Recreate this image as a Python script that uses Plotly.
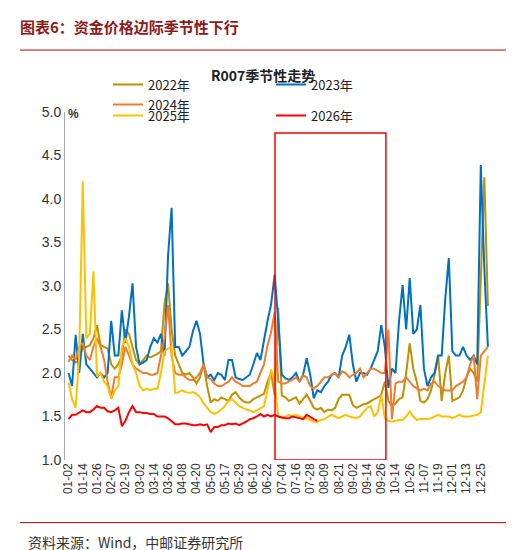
import plotly.graph_objects as go

tick_labels = ["01-02","01-14","01-26","02-07","02-19","03-02","03-14","03-26","04-08","04-20",
               "05-05","05-17","05-29","06-10","06-22","07-04","07-16","07-28","08-09","08-21",
               "09-02","09-14","09-26","10-14","10-26","11-07","11-19","12-01","12-13","12-25"]

r2022 = [2.2,2.15,2.12,2.15,2.3,2.3,2.32,2.4,2.55,2.32,2.3,2.28,2.1,2.05,2.1,2.2,2.5,2.45,2.3,2.15,
         2.1,2.15,2.2,2.18,2.2,2.22,2.25,2.8,3.03,2.5,2.2,2.1,2.0,1.98,2.0,1.95,1.88,1.95,2.1,1.85,
         1.66,1.7,1.68,1.72,1.7,1.68,1.75,1.78,1.72,1.68,1.66,1.66,1.7,1.72,1.74,1.76,1.9,2.0,1.75,2.75,
         1.74,1.72,1.68,1.7,1.72,1.65,1.7,1.75,1.68,1.6,1.58,1.6,1.55,1.58,1.57,1.6,1.7,1.75,1.75,1.75,
         1.63,1.6,1.62,1.64,1.65,1.68,1.7,1.72,1.75,1.9,1.68,1.62,1.65,1.7,1.72,2.0,2.34,2.05,1.9,1.68,
         1.66,1.7,1.8,1.98,2.2,1.68,2.0,2.2,1.68,1.7,1.72,1.8,1.95,2.05,2.0,1.9,3.0,4.25,2.77]
r2023 = [2.0,1.85,2.44,2.0,2.45,2.1,2.05,2.0,1.95,2.0,1.95,2.0,2.6,2.2,2.2,2.72,2.35,2.65,3.03,2.3,
         2.1,2.12,2.15,2.3,2.4,2.35,2.45,2.2,3.35,3.9,2.3,2.3,2.2,2.25,2.3,2.48,2.6,2.45,2.1,1.95,
         1.98,1.92,2.0,1.98,1.92,2.15,2.15,1.95,1.93,1.92,1.95,1.98,2.1,2.23,2.15,2.4,2.6,2.79,3.13,2.6,
         1.98,1.94,1.92,1.95,2.0,1.9,1.98,2.17,1.98,1.71,1.8,1.78,1.85,1.9,1.98,2.0,1.95,2.2,2.3,2.44,
         2.1,1.9,2.0,2.0,1.98,2.05,2.15,2.25,2.55,2.3,1.83,2.05,2.0,2.6,3.01,2.5,3.09,2.45,2.5,2.78,
         2.05,1.85,1.95,2.0,2.2,2.2,2.85,3.32,2.25,2.2,2.2,2.3,2.2,2.15,2.2,2.1,4.39,3.2,2.3]
r2024 = [2.13,2.2,2.15,2.3,2.35,2.2,2.15,2.3,2.4,2.3,2.15,1.9,1.72,1.95,1.95,2.1,2.3,2.2,2.1,2.05,
         2.02,2.0,2.0,1.98,1.98,2.0,2.2,2.4,2.78,2.2,2.0,1.98,1.98,1.95,1.92,1.92,1.95,2.0,2.1,1.95,
         1.93,1.88,1.85,1.85,1.88,1.9,1.95,1.9,1.88,1.85,1.85,1.85,1.88,1.9,2.0,2.1,2.32,2.47,2.7,1.9,
         1.88,1.88,1.9,1.92,1.95,1.9,1.97,1.95,1.85,1.82,1.85,1.9,1.95,1.95,1.98,2.0,1.95,2.02,2.0,1.95,
         1.98,2.0,2.05,1.95,2.0,2.05,2.05,2.02,2.0,2.0,2.5,1.47,1.88,1.9,1.9,1.95,1.9,1.85,1.82,1.8,
         1.82,1.8,1.88,1.9,1.85,1.82,1.8,1.8,1.8,1.85,1.88,1.9,1.95,2.1,2.2,1.7,2.2,2.25,2.3]
r2025 = [1.89,1.7,1.6,2.2,4.2,2.4,2.45,3.17,1.96,2.0,1.9,1.85,1.7,1.8,1.85,2.3,2.4,2.3,2.1,2.0,
         1.85,1.8,1.82,1.8,1.82,1.82,2.0,2.25,2.28,2.3,1.77,1.78,1.8,1.78,1.77,1.78,1.76,1.72,1.65,1.6,
         1.55,1.53,1.55,1.58,1.62,1.68,1.7,1.66,1.62,1.6,1.58,1.57,1.55,1.57,1.6,1.62,1.8,2.04,1.9,1.5,
         1.48,1.5,1.52,1.5,1.52,1.5,1.48,1.48,1.46,1.44,1.44,1.46,1.47,1.5,1.52,1.5,1.48,1.5,1.52,1.5,
         1.49,1.48,1.5,1.55,1.6,1.62,1.5,1.55,1.75,1.48,1.45,1.44,1.45,1.46,1.46,1.5,1.56,1.5,1.46,1.47,
         1.47,1.47,1.48,1.5,1.52,1.5,1.5,1.5,1.48,1.5,1.52,1.5,1.5,1.5,1.51,1.52,1.55,1.85,2.2]
r2026 = [1.47,1.52,1.52,1.55,1.57,1.55,1.55,1.58,1.62,1.6,1.6,1.56,1.55,1.57,1.6,1.39,1.45,1.55,1.62,1.55,
         1.55,1.54,1.54,1.53,1.53,1.5,1.5,1.5,1.48,1.45,1.41,1.41,1.42,1.42,1.41,1.4,1.4,1.41,1.4,1.41,
         1.32,1.38,1.38,1.4,1.4,1.42,1.41,1.42,1.4,1.42,1.44,1.47,1.48,1.5,1.53,1.5,1.52,1.5,1.52,1.5,
         1.49,1.48,1.48,1.5,1.49,1.48,1.47,1.52,1.49,1.47,1.45]

series = [("2022年", r2022, "#BF9000", "legend"), ("2023年", r2023, "#0070C0", "legend"),
          ("2024年", r2024, "#ED7D31", "legend"), ("2025年", r2025, "#FFC000", "legend2"),
          ("2026年", r2026, "#FF0000", "legend2")]

CJK = "Noto Sans CJK SC"
fig = go.Figure()
for name, vals, col, lg in series:
    fig.add_trace(go.Scatter(x=list(range(len(vals))), y=vals, name=name, mode="lines",
                             line=dict(color=col, width=2), legend=lg))

fig.add_shape(type="rect", xref="x", yref="y", x0=58.1, x1=89.3, y0=1.0, y1=4.76,
              line=dict(color="#FF0000", width=1.5))

leg_common = dict(orientation="h", xanchor="left", yanchor="middle", entrywidth=118,
                  entrywidthmode="pixels", font=dict(family=CJK, size=13, color="#222"),
                  bgcolor="rgba(0,0,0,0)", itemwidth=30)
fig.update_layout(
    width=514, height=550, margin=dict(l=57, r=27, t=104, b=98, autoexpand=False),
    paper_bgcolor="white", plot_bgcolor="white", showlegend=True,
    font=dict(family="Liberation Sans, " + CJK, size=13, color="#333"),
    legend=dict(x=0.1, y=1.05, **leg_common),
    legend2=dict(x=0.1, y=0.99, **leg_common),
    xaxis=dict(range=[-1, 120], tickmode="array", tickvals=list(range(0, 120, 4)),
               ticktext=tick_labels, tickangle=-90, showgrid=False, zeroline=False,
               ticks="", tickfont=dict(size=12, color="#333"), automargin=False),
    yaxis=dict(range=[1.0, 5.0], dtick=0.5, tickformat=".1f", showgrid=False, zeroline=False,
               showline=True, linecolor="#aaa", linewidth=1, ticks="", automargin=False,
               tickfont=dict(size=14, color="#333")),
    annotations=[
        dict(text="<b>图表6：资金价格边际季节性下行</b>", xref="paper", yref="paper", x=-0.11,
             y=1.247, xanchor="left", yanchor="middle", showarrow=False,
             font=dict(family=CJK, size=15, color="#8B1A1A")),
        dict(text="<b>R007季节性走势</b>", xref="paper", yref="paper", x=0.46, y=1.106,
             xanchor="center", yanchor="middle", showarrow=False, font=dict(family=CJK, size=14, color="#222")),
        dict(text="<b>%</b>", xref="paper", yref="paper", x=0.02, y=0.995, xanchor="center",
             yanchor="middle", showarrow=False, font=dict(size=12, color="#333")),
        dict(text="资料来源：Wind，中邮证券研究所", xref="paper", yref="paper", x=-0.09, y=-0.235,
             xanchor="left", yanchor="middle", showarrow=False, font=dict(family=CJK, size=14, color="#333")),
    ],
    shapes=[
        dict(type="line", xref="x", yref="y", x0=-1, x1=120, y0=1.0, y1=1.0, line=dict(color="#888", width=5)),
        dict(type="line", xref="paper", yref="paper", x0=-0.105, x1=1.03, y0=1.178, y1=1.178,
             line=dict(color="#C00000", width=1)),
        dict(type="line", xref="paper", yref="paper", x0=-0.105, x1=1.03, y0=-0.18, y1=-0.18,
             line=dict(color="#C00000", width=1)),
    ],
)
fig.update_shapes(layer="above")
fig.write_html("out.html")
